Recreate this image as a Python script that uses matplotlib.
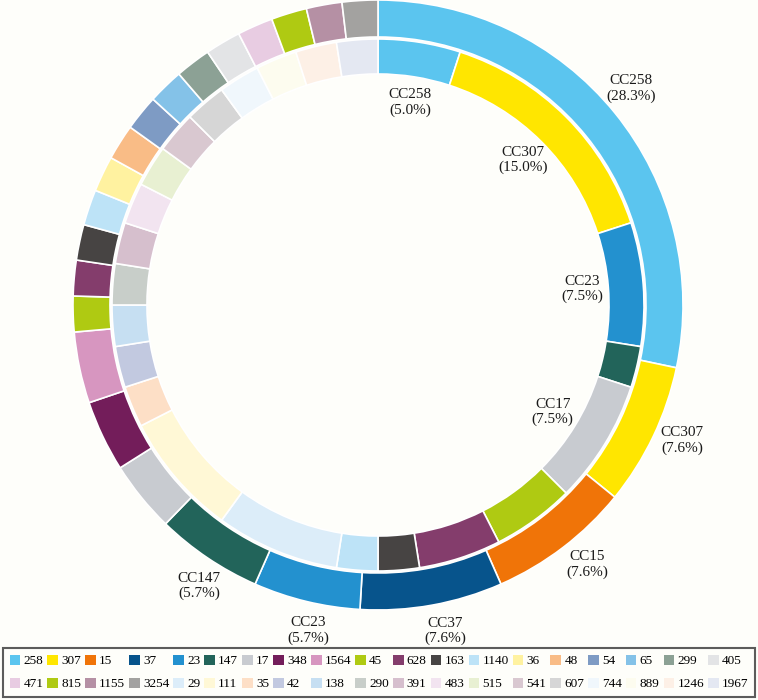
import numpy as np
import matplotlib.pyplot as plt
from matplotlib.patches import Patch

# outer ring (clockwise from top)
outer_sts = ['258', '307', '15', '37', '23', '147', '17', '348', '1564', '45', '628',
             '163', '1140', '36', '48', '54', '65', '299', '405', '471', '815', '1155', '3254']
outer_counts = [15, 4, 4, 4, 3, 3, 2, 2, 2, 1, 1, 1, 1, 1, 1, 1, 1, 1, 1, 1, 1, 1, 1]
outer_labels = {'258': '28.3', '307': '7.6', '15': '7.6', '37': '7.6', '23': '5.7', '147': '5.7'}

# inner ring (clockwise from top)
inner_sts = ['258', '307', '23', '147', '17', '45', '628', '163', '1140', '29', '111', '35',
             '42', '138', '290', '391', '483', '515', '541', '607', '744', '889', '1246', '1967']
inner_counts = [2, 6, 3, 1, 3, 2, 2, 1, 1, 3, 3, 1, 1, 1, 1, 1, 1, 1, 1, 1, 1, 1, 1, 1]
inner_labels = {'258': '5.0', '307': '15.0', '23': '7.5', '17': '7.5'}

legend_order = outer_sts + ['29', '111', '35', '42', '138', '290', '391', '483', '515',
                            '541', '607', '744', '889', '1246', '1967']

colors = {
    '258': '#5bc5ef', '307': '#ffe600', '15': '#f07408', '37': '#07548c', '23': '#2391cf',
    '147': '#22645a', '17': '#c8cbd0', '348': '#731d5a', '1564': '#d796c0', '45': '#afca12',
    '628': '#843d6c', '163': '#474443', '1140': '#bde3f7', '36': '#fff2a0', '48': '#f9bc86',
    '54': '#7e9bc4', '65': '#84c2e8', '299': '#8ca195', '405': '#e3e4e6', '471': '#e8cce2',
    '815': '#afca12', '1155': '#b590a4', '3254': '#a3a2a0', '29': '#dcedf9', '111': '#fff8d6',
    '35': '#fddfc6', '42': '#c2c9e0', '138': '#c6dff2', '290': '#c8cec9', '391': '#d6bfcd',
    '483': '#f2e4f0', '515': '#e8f0d2', '541': '#d9c8d0', '607': '#d6d6d6', '744': '#f0f7fc',
    '889': '#fdfcef', '1246': '#fdf0e6', '1967': '#e4e8f2',
}

plt.rcParams['font.family'] = ['Liberation Serif', 'DejaVu Serif']
bg = '#fefefa'

fig = plt.figure(figsize=(7.58, 7.0), dpi=100, facecolor=bg)
ax = fig.add_axes([0, 0, 1, 1])
ax.set_facecolor(bg)
R = 305.0


def ring(sts, counts, radius, width, labels, label_r, shift=0.0):
    wedges, _ = ax.pie(counts, colors=[colors[s] for s in sts], radius=radius,
                       startangle=90, counterclock=False,
                       wedgeprops=dict(width=width, edgecolor='white', linewidth=1.2))
    for w, s in zip(wedges, sts):
        if s in labels:
            mid = np.deg2rad((w.theta1 + w.theta2) / 2 + shift)
            ax.text(label_r * np.cos(mid), label_r * np.sin(mid),
                    f'CC{s}\n({labels[s]}%)', ha='center', va='center',
                    fontsize=11, color='#1a1a1a', linespacing=1.2)


ring(outer_sts, outer_counts, 1.0, 37 / R, outer_labels, 333 / R, shift=1.5)
ring(inner_sts, inner_counts, 266 / R, 35 / R, inner_labels, 205 / R)

ax.set_aspect('auto')
ax.set_xlim(-378 / R, (758 - 378) / R)
ax.set_ylim(-395 / R, 305 / R)
ax.axis('off')

n = len(legend_order)
ncol = 19
handles = [Patch(facecolor=colors[s], edgecolor='none', label=s) for s in legend_order]
# matplotlib fills legends column by column; reorder so rows read left to right
ordered = []
for j in range(ncol):
    for i in range(0, n, ncol):
        if i + j < n:
            ordered.append(handles[i + j])
leg = fig.legend(handles=ordered, loc='lower left', ncol=ncol, mode='expand',
                 bbox_to_anchor=(3 / 758, 3 / 700, 752 / 758, 48 / 700),
                 fontsize=9.5, frameon=True, fancybox=False, handlelength=0.8,
                 handleheight=0.8, handletextpad=0.25, columnspacing=0.3,
                 labelspacing=0.8, borderpad=0.5, borderaxespad=0)
leg.get_frame().set_edgecolor('#333333')
leg.get_frame().set_linewidth(1.5)
leg.get_frame().set_facecolor(bg)

plt.savefig('out.png', dpi=100, facecolor=bg)
